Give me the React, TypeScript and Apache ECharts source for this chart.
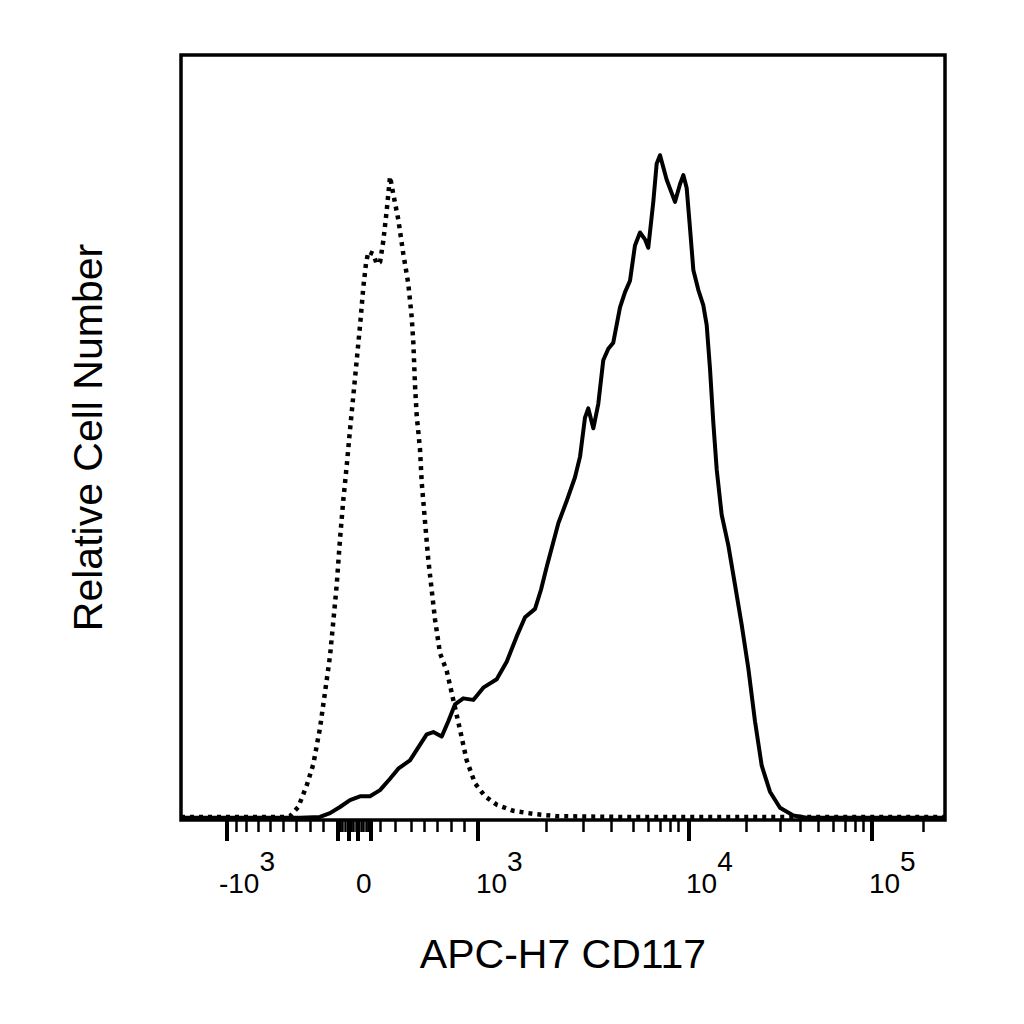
import { useEffect, useRef } from "react";
import * as echarts from "echarts";

// x values are display channels of the biexponential axis: 0 = left edge, 1000 = right edge
// y values are percent of the plot height (relative cell number)

// ─── Axis ticks / labels ───────────────────────────────────────────
const MAJOR_TICKS = [59.8, 204.8, 219.2, 231.7, 248.0, 388.3, 664.0, 904.1];
const MINOR_TICKS = [
  72.9, 86.0, 101.2, 116.5, 133.9, 151.4, 168.8, 186.3,
  208.1, 211.4, 214.7, 222.5, 225.8, 229.1, 235.6, 238.9, 242.1, 245.4,
  260.5, 280.1, 301.0, 318.1, 335.7, 354.1, 370.4, 478.7, 526.6, 563.7, 592.0, 611.6, 627.0,
  640.1, 650.9, 740.4, 784.0, 810.2, 834.2, 853.8, 869.1, 882.2, 893.1, 971.6,
];
const LABEL_POS = [49.7, 229.1, 386.1, 661.0, 900.5];
const LABEL_BASE = ["-10", "0", "10", "10", "10"];
const LABEL_EXP = ["3", "", "3", "4", "5"];

// ─── Isotype control (dotted) ──────────────────────────────────────
const ISO_X = [
  0, 90.3, 136.1, 142.7, 153.5, 164.5, 173.2, 181.9, 188.5, 195.0, 199.3, 203.8, 208.1, 212.4,
  216.9, 221.2, 225.5, 230.0, 234.3, 238.6, 242.1, 245.2, 251.7, 256.1, 260.5, 264.8, 269.2,
  273.6, 277.9, 284.4, 291.0, 297.5, 302.0, 304.1, 306.3, 308.5, 312.8, 315.1, 319.4, 323.7,
  328.1, 332.5, 339.0, 347.8, 356.4, 365.2, 373.9, 384.8, 397.9, 413.2, 434.9, 461.1, 491.8,
  574.6, 1000,
];
const ISO_Y = [
  0.4, 0.4, 0.4, 0.5, 1.7, 4.5, 7.3, 12.0, 16.7, 21.4, 25.9, 30.7, 36.7, 41.8,
  46.3, 51.0, 55.4, 60.1, 64.6, 69.6, 72.7, 74.3, 74.0, 72.7, 72.9, 75.7, 79.6,
  84.1, 81.8, 78.5, 74.0, 70.1, 65.7, 62.4, 56.8, 52.9, 48.5, 44.1, 39.0, 34.0,
  30.1, 26.2, 21.8, 19.5, 15.7, 11.8, 7.8, 4.8, 3.1, 2.0, 1.2, 0.8, 0.5,
  0.4, 0.4,
];

// ─── APC-H7 CD117 stained (solid) ──────────────────────────────────
const CD117_X = [
  0, 155.8, 181.9, 195.0, 208.1, 221.2, 234.3, 247.4, 260.5, 273.6, 284.4, 299.7, 310.6,
  321.6, 330.2, 341.2, 349.9, 358.6, 369.5, 382.6, 395.7, 413.2, 426.3, 439.4, 450.3, 463.4,
  471.2, 478.7, 493.9, 504.8, 515.7, 522.3, 528.8, 533.1, 539.7, 546.2, 552.7, 559.3, 565.8,
  574.6, 581.2, 587.7, 594.2, 600.8, 607.3, 611.6, 618.2, 622.6, 627.0, 635.7, 646.6, 653.1,
  657.5, 661.9, 666.2, 670.6, 677.1, 683.6, 688.1, 692.4, 696.7, 701.2, 707.7, 716.4, 725.2,
  733.9, 742.6, 751.3, 760.1, 770.9, 784.0, 801.4, 819.0, 1000,
];
const CD117_Y = [
  0.3, 0.3, 0.4, 0.9, 1.7, 2.6, 3.1, 3.1, 3.9, 5.4, 6.7, 7.8, 9.5,
  11.2, 11.5, 10.9, 12.9, 15.1, 15.9, 15.7, 17.3, 18.4, 20.7, 24.0, 26.5, 27.6,
  30.1, 33.1, 38.8, 41.7, 44.8, 47.5, 52.6, 53.8, 51.2, 54.4, 60.1, 61.6, 62.4,
  67.0, 69.0, 70.5, 75.1, 76.8, 75.9, 74.8, 80.8, 85.8, 86.9, 83.7, 80.8, 83.1,
  84.3, 82.6, 77.4, 71.9, 69.3, 67.3, 64.7, 59.0, 52.0, 45.8, 39.9, 35.9, 30.7,
  25.5, 19.8, 12.9, 7.1, 3.7, 1.6, 0.6, 0.3, 0.3,
];

const FONT = "'Liberation Sans', Arial, Helvetica, sans-serif";

function formatTick(value: number) {
  const i = LABEL_POS.findIndex((p) => Math.abs(p - value) < 0.05);
  if (i < 0) return "";
  return LABEL_EXP[i] ? `{b|${LABEL_BASE[i]}}{s|${LABEL_EXP[i]}}` : `{b|${LABEL_BASE[i]}}`;
}

export default function App() {
  const ref = useRef<HTMLDivElement>(null);

  useEffect(() => {
    if (!ref.current) return;
    const chart = echarts.init(ref.current, undefined, { renderer: "svg" });

    chart.setOption({
      animation: false,
      backgroundColor: "#ffffff",
      textStyle: { fontFamily: FONT, color: "#000" },
      grid: {
        left: 181,
        top: 55,
        right: 79,
        bottom: 204,
        show: true,
        borderColor: "#000",
        borderWidth: 3.5,
        backgroundColor: "transparent",
        outerBoundsMode: "none",
      },
      xAxis: [
        {
          type: "value",
          min: 0,
          max: 1000,
          position: "bottom",
          name: "APC-H7 CD117",
          nameLocation: "middle",
          nameGap: 113,
          nameMoveOverlap: false,
          nameTextStyle: { fontFamily: FONT, fontSize: 41, color: "#000" },
          axisLine: { show: false, onZero: false },
          splitLine: { show: false },
          axisTick: {
            show: true,
            customValues: MAJOR_TICKS,
            length: 21,
            lineStyle: { color: "#000", width: 4 },
          },
          axisLabel: {
            show: true,
            customValues: LABEL_POS,
            align: "left",
            margin: 27,
            fontFamily: FONT,
            fontSize: 28,
            color: "#000",
            formatter: formatTick,
            rich: {
              b: {
                fontFamily: FONT,
                fontSize: 28,
                color: "#000",
                lineHeight: 50,
                verticalAlign: "bottom",
              },
              s: {
                fontFamily: FONT,
                fontSize: 28,
                color: "#000",
                verticalAlign: "top",
              },
            },
          },
        },
        {
          type: "value",
          min: 0,
          max: 1000,
          position: "bottom",
          axisLine: { show: false, onZero: false },
          splitLine: { show: false },
          axisLabel: { show: false },
          axisTick: {
            show: true,
            customValues: MINOR_TICKS,
            length: 12,
            lineStyle: { color: "#000", width: 2.5 },
          },
        },
      ],
      yAxis: {
        type: "value",
        min: 0,
        max: 100,
        name: "Relative Cell Number",
        nameLocation: "middle",
        nameGap: 73,
        nameMoveOverlap: false,
        nameTextStyle: { fontFamily: FONT, fontSize: 41, color: "#000" },
        axisLine: { show: false },
        axisTick: { show: false },
        axisLabel: { show: false },
        splitLine: { show: false },
      },
      series: [
        {
          name: "Isotype control",
          type: "line",
          xAxisIndex: 0,
          showSymbol: false,
          symbol: "none",
          lineStyle: { color: "#000", width: 4.5, type: [4, 5], cap: "butt" },
          data: ISO_X.map((x, i) => [x, ISO_Y[i]]),
        },
        {
          name: "APC-H7 CD117",
          type: "line",
          xAxisIndex: 0,
          showSymbol: false,
          symbol: "none",
          lineStyle: { color: "#000", width: 4, join: "round" },
          data: CD117_X.map((x, i) => [x, CD117_Y[i]]),
        },
      ],
    });

    return () => chart.dispose();
  }, []);

  return (
    <div
      ref={ref}
      style={{ position: "absolute", left: 0, top: 0, width: 1024, height: 1024, background: "#fff" }}
    />
  );
}
